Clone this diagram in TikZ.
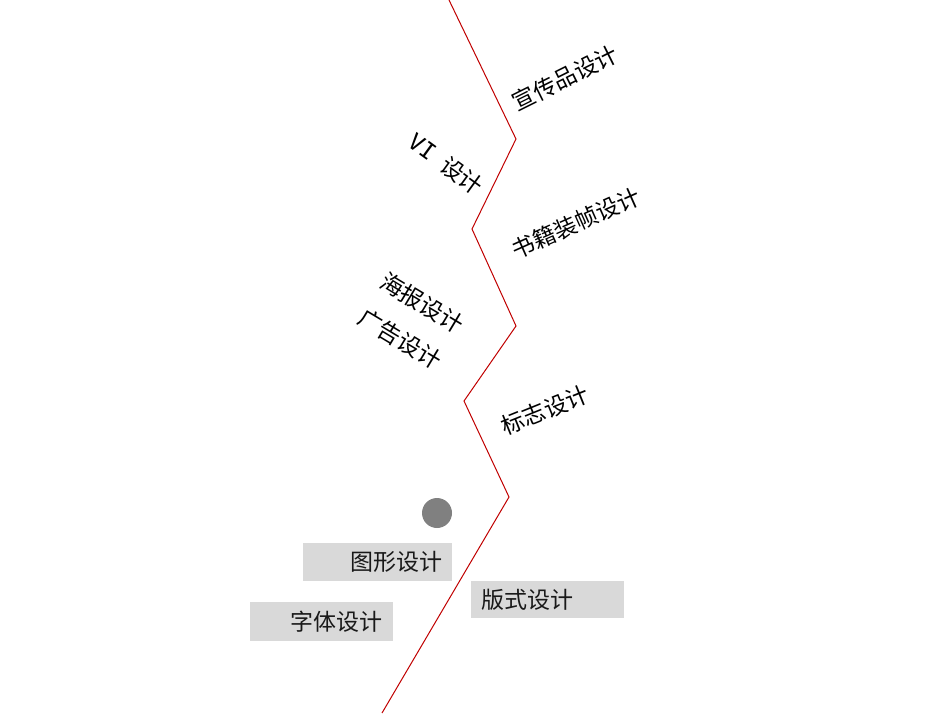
\documentclass[tikz,border=0pt]{standalone}
\usepackage{fontspec}
\newfontfamily\cjk{Noto Sans CJK SC}
\newfontfamily\vimono{DejaVu Sans Mono}
\definecolor{zig}{HTML}{C00000}
\definecolor{boxgray}{HTML}{D9D9D9}
\definecolor{dot}{HTML}{808080}
\begin{document}
\begin{tikzpicture}[x=1pt,y=1pt,
  lbl/.style={font=\cjk\fontsize{23}{25}\selectfont, inner sep=0pt, text=black},
  graybox/.style={fill=boxgray, draw=none, inner sep=0pt, minimum height=38pt}]
\useasboundingbox (0,0) rectangle (950,-713);
% zigzag
\coordinate (p0) at (449,0);
\coordinate (p1) at (516,-139);
\coordinate (p2) at (472,-229);
\coordinate (p3) at (516,-326);
\coordinate (p4) at (464,-401);
\coordinate (p5) at (509,-497);
\coordinate (p6) at (382,-713);
\draw[zig, line width=1pt] (p0) -- (p1) -- (p2) -- (p3) -- (p4) -- (p5) -- (p6);
% rotated labels
\node[lbl, rotate=26.5] (xc) at (565,-78) {宣传品设计};
\node[lbl, rotate=-36] (vi) at (446,-164) {{\vimono\fontsize{23}{25}\selectfont VI}\hspace{12pt}设计};
\node[lbl, rotate=24] (sj) at (576,-223) {书籍装帧设计};
\node[lbl, rotate=-31] (hb) at (422,-303) {海报设计};
\node[lbl, rotate=-31] (gg) at (400,-339) {广告设计};
\node[lbl, rotate=22] (bz) at (545,-410) {标志设计};
% dot
\node[circle, fill=dot, minimum size=30pt, inner sep=0pt] (c) at (437,-513) {};
% boxes
\node[graybox, minimum width=149pt] (b1) at (377.5,-562) {};
\node[lbl, anchor=east, text=black!90] (t1) at (443,-562) {图形设计};
\node[graybox, minimum width=143pt, minimum height=39pt] (b2) at (321.5,-621.5) {};
\node[lbl, anchor=east, text=black!90] (t2) at (383,-622) {字体设计};
\node[graybox, minimum width=153pt, minimum height=37pt] (b3) at (547.5,-599.5) {};
\node[lbl, anchor=west, text=black!90] (t3) at (481,-600) {版式设计};
\end{tikzpicture}
\end{document}
